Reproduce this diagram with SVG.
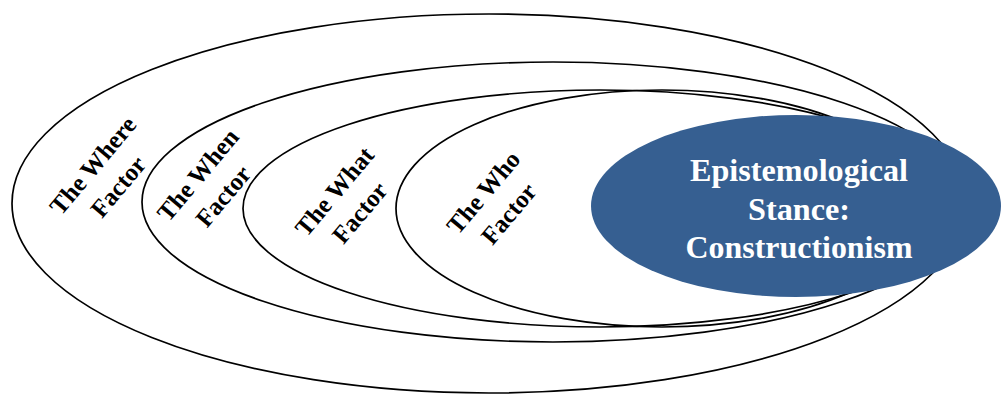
<svg xmlns="http://www.w3.org/2000/svg" width="1003" height="396" viewBox="0 0 1003 396">
<style>
.ring{fill:none;stroke:#000;stroke-width:1.7}
.lbl{font-family:"Liberation Serif","Times New Roman",serif;font-weight:bold;font-size:25px;fill:#000;text-anchor:middle}
.core{fill:#365F91;stroke:none}
.ctext{font-family:"Liberation Serif","Times New Roman",serif;font-weight:bold;font-size:31px;fill:#fff;text-anchor:middle}
</style>
<rect width="1003" height="396" fill="#fff"/>
<g id="where">
<ellipse class="ring" cx="489" cy="203.5" rx="477" ry="189.5"/>
<text class="lbl" transform="translate(105.5,176) rotate(-50)"><tspan x="0" y="-8">The Where</tspan><tspan x="0" y="25">Factor</tspan></text>
</g>
<g id="when">
<ellipse class="ring" cx="553" cy="202" rx="411" ry="140"/>
<text class="lbl" transform="translate(210.5,185.5) rotate(-50)"><tspan x="0" y="-8">The When</tspan><tspan x="0" y="25">Factor</tspan></text>
</g>
<g id="what">
<ellipse class="ring" cx="600" cy="208.5" rx="357" ry="118.5"/>
<text class="lbl" transform="translate(347,202) rotate(-50)"><tspan x="0" y="-8">The What</tspan><tspan x="0" y="25">Factor</tspan></text>
</g>
<g id="who">
<ellipse class="ring" cx="662" cy="208.5" rx="266" ry="118.5"/>
<text class="lbl" transform="translate(496,203) rotate(-50)"><tspan x="0" y="-8">The Who</tspan><tspan x="0" y="25">Factor</tspan></text>
</g>
<g id="core">
<ellipse class="core" cx="796" cy="206" rx="205" ry="91"/>
<text class="ctext"><tspan x="799" y="181" textLength="218" lengthAdjust="spacingAndGlyphs">Epistemological</tspan><tspan x="799" y="220" textLength="102" lengthAdjust="spacingAndGlyphs">Stance:</tspan><tspan x="799" y="258" textLength="227" lengthAdjust="spacingAndGlyphs">Constructionism</tspan></text>
</g>
<g id="connectors"></g>
</svg>
